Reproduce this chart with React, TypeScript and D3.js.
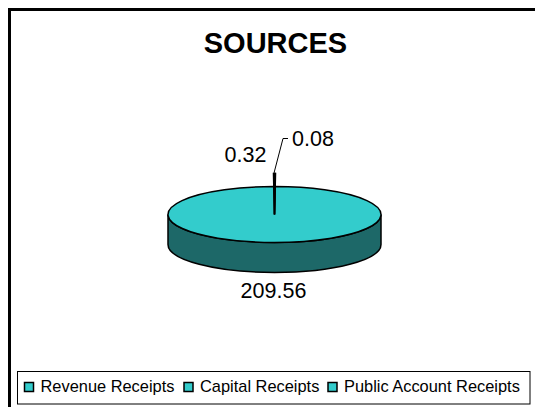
import React from "react";
import * as d3 from "d3";

const categories = ["Revenue Receipts", "Capital Receipts", "Public Account Receipts"];
const values = [209.56, 0.32, 0.08];
const valueLabels = ["209.56", "0.32", "0.08"];
const title = "SOURCES";

const font = "'Liberation Sans', Arial, sans-serif";
const TOP = "#33CCCC";
const SIDE = "#1D6868";
const cx = 274.5, cy = 214.5, rx = 106.5, ry = 28, depth = 30;

export default function App() {
  const small = (values[1] + values[2]) / d3.sum(values) * 2 * Math.PI;
  const pie = d3.pie<number>().sort(null).startAngle(small / 2).endAngle(small / 2 + 2 * Math.PI);
  const arcs = pie(values);
  const unit = d3.arc<d3.PieArcDatum<number>>().innerRadius(0).outerRadius(1);
  const raised = d3.arc<d3.PieArcDatum<number>>().innerRadius(0).outerRadius(41 / ry);
  const tf = `translate(${cx},${cy}) scale(${rx},${ry})`;
  const sidePath = `M${cx - rx},${cy} L${cx - rx},${cy + depth} A${rx},${ry} 0 0 0 ${cx + rx},${cy + depth} L${cx + rx},${cy} A${rx},${ry} 0 0 1 ${cx - rx},${cy} Z`;
  const x = d3.scaleOrdinal<string, number>().domain(categories).range([24.5, 184, 328]);

  return (
    <svg width={535} height={407} style={{ position: "absolute", left: 0, top: 0, background: "#fff" }} fontFamily={font}>
      <path d="M9.5,407 L9.5,9.5 L535,9.5" fill="none" stroke="#000" strokeWidth={3} />
      <text x={275.5} y={52.5} textAnchor="middle" fontSize={29} fontWeight="bold">{title}</text>

      <path d={sidePath} fill={SIDE} stroke="#000" strokeWidth={1.5} />
      <path d={unit(arcs[0]) as string} transform={tf} fill={TOP} stroke="#000" strokeWidth={1.5} vectorEffect="non-scaling-stroke" />
      {arcs.slice(1).map((a, i) => (
        <path key={i} d={raised(a) as string} transform={tf} fill="#000" stroke="#000" strokeWidth={1.6} vectorEffect="non-scaling-stroke" />
      ))}
      <path d="M274,173 L283,138.5 L288,138.5" fill="none" stroke="#000" strokeWidth={1} />

      <text x={273.5} y={298} textAnchor="middle" fontSize={21.5}>{valueLabels[0]}</text>
      <text x={245.5} y={162} textAnchor="middle" fontSize={21.5}>{valueLabels[1]}</text>
      <text x={313} y={146} textAnchor="middle" fontSize={21.5}>{valueLabels[2]}</text>

      <rect x={17.5} y={371.5} width={512.5} height={32.5} fill="#fff" stroke="#000" strokeWidth={1} />
      {categories.map((c) => (
        <g key={c}>
          <rect x={x(c)} y={382.5} width={9} height={9} fill={TOP} stroke="#000" strokeWidth={1.5} />
          <text x={x(c) + 16} y={391.5} fontSize={16.4}>{c}</text>
        </g>
      ))}
    </svg>
  );
}
